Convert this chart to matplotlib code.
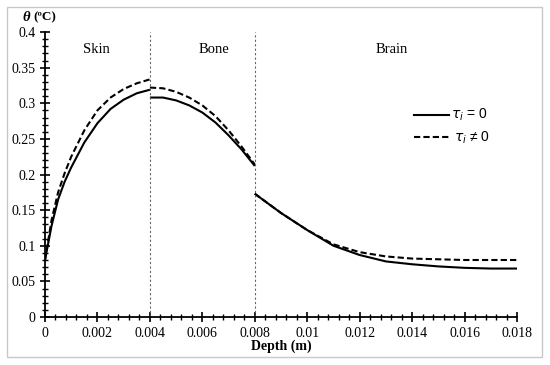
import matplotlib.pyplot as plt
from matplotlib.ticker import MultipleLocator, FuncFormatter
from matplotlib.patches import Rectangle

# depth (m) and temperature rise (C) per layer
skin_x = [0, 0.00025, 0.0005, 0.00075, 0.001, 0.0015, 0.002, 0.0025, 0.003, 0.0035, 0.004]
skin_solid = [0.08, 0.128, 0.165, 0.19, 0.21, 0.245, 0.272, 0.292, 0.305, 0.314, 0.319]
skin_dash = [0.08, 0.136, 0.175, 0.202, 0.225, 0.262, 0.29, 0.308, 0.32, 0.328, 0.3335]

bone_x = [0.004, 0.0045, 0.005, 0.0055, 0.006, 0.0065, 0.007, 0.0075, 0.008]
bone_solid = [0.308, 0.308, 0.304, 0.297, 0.287, 0.273, 0.255, 0.235, 0.212]
bone_dash = [0.322, 0.321, 0.316, 0.308, 0.297, 0.282, 0.262, 0.239, 0.214]

brain_x = [0.008, 0.009, 0.01, 0.011, 0.012, 0.013, 0.014, 0.015, 0.016, 0.017, 0.018]
brain_solid = [0.173, 0.146, 0.122, 0.1, 0.087, 0.078, 0.074, 0.071, 0.069, 0.068, 0.068]
brain_dash = [0.173, 0.146, 0.122, 0.102, 0.091, 0.085, 0.082, 0.081, 0.08, 0.08, 0.08]

layers = ['Skin', 'Bone', 'Brain']
layer_label_x = [0.00195, 0.00645, 0.01323]
boundaries = [0.004, 0.008]

fig = plt.figure(figsize=(5.5, 3.65), dpi=100)
fig.patches.append(Rectangle((7 / 550, 8 / 365), 535 / 550, 350 / 365, transform=fig.transFigure,
                             fill=False, edgecolor='#c8c8c8', linewidth=1))
ax = fig.add_axes([45 / 550, 48 / 365, 472 / 550, 285 / 365])

for xs, ys in [(skin_x, skin_solid), (bone_x, bone_solid), (brain_x, brain_solid)]:
    ax.plot(xs, ys, color='black', linewidth=1.5, solid_capstyle='butt')
for xs, ys in [(skin_x, skin_dash), (bone_x, bone_dash), (brain_x, brain_dash)]:
    ax.plot(xs, ys, color='black', linewidth=1.5, linestyle=(0, (3, 1.5)))

for b in boundaries:
    ax.axvline(b, color='#666666', linewidth=0.8, linestyle=(0, (2, 2)))

for name, lx in zip(layers, layer_label_x):
    ax.text(lx, 0.376, name, fontsize=10.5, family='Liberation Serif', ha='center', va='center')

# legend drawn by hand like the original
ax.plot([0.01407, 0.01541], [0.284, 0.284], color='black', linewidth=1.5)
ax.text(0.0155, 0.284, r'$\tau_i$ = 0', fontsize=10, va='center', family='Liberation Sans')
ax.plot([0.01407, 0.01545], [0.252, 0.252], color='black', linewidth=1.5, linestyle=(0, (3, 1.5)))
ax.text(0.0156, 0.252, r'$\tau_i$ ≠ 0', fontsize=10, va='center', family='Liberation Sans')

ax.set_xlim(0, 0.018)
ax.set_ylim(0, 0.4)
ax.spines['top'].set_visible(False)
ax.spines['right'].set_visible(False)
ax.xaxis.set_major_locator(MultipleLocator(0.002))
ax.xaxis.set_minor_locator(MultipleLocator(0.0004))
ax.yaxis.set_major_locator(MultipleLocator(0.05))
ax.yaxis.set_minor_locator(MultipleLocator(0.01))
ax.xaxis.set_major_formatter(FuncFormatter(lambda v, p: f'{v:g}'))
ax.yaxis.set_major_formatter(FuncFormatter(lambda v, p: f'{v:g}'))
ax.tick_params(which='major', direction='inout', length=7, width=1.2, labelsize=10)
ax.tick_params(which='minor', direction='inout', length=4, width=1)
for lab in ax.get_xticklabels() + ax.get_yticklabels():
    lab.set_family('Liberation Serif')
ax.spines['left'].set_linewidth(1.3)
ax.spines['bottom'].set_linewidth(1.3)

ax.set_xlabel('Depth (m)', fontsize=10, fontweight='bold', family='Liberation Serif', labelpad=0)
fig.text(22 / 550, 0.953, 'θ', fontsize=10.5, style='italic', fontweight='bold', va='center',
         family='Liberation Serif')
fig.text(33 / 550, 0.953, '(ºC)', fontsize=9.5, fontweight='bold', va='center', family='Liberation Serif')

fig.savefig('out.png', dpi=100)
